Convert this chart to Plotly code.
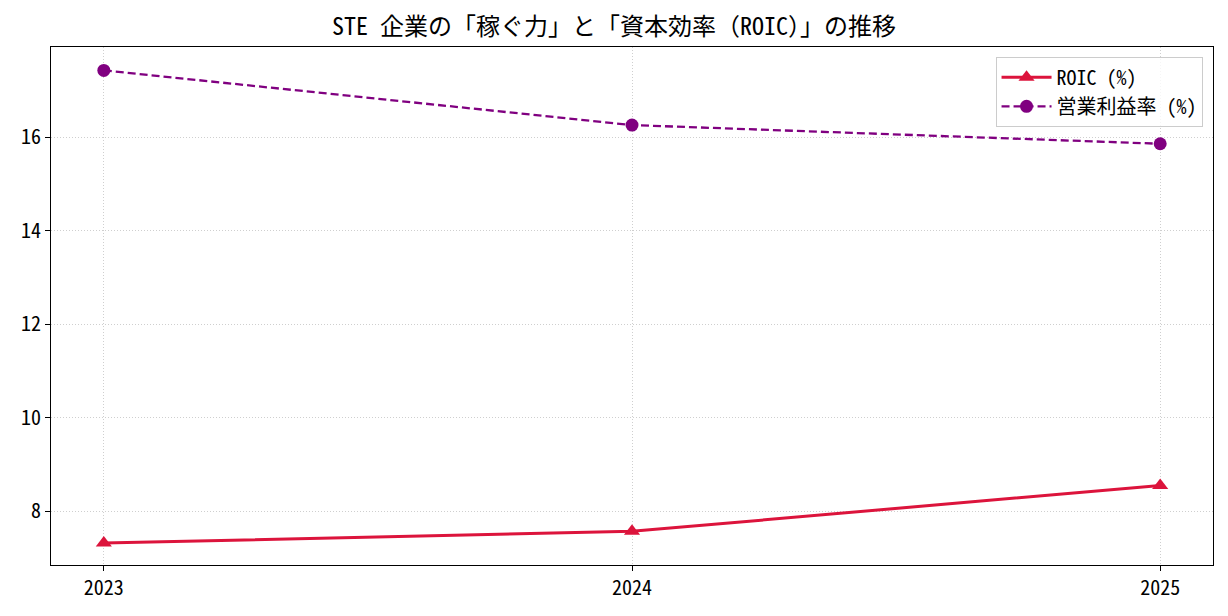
import plotly.graph_objects as go

years = [2023, 2024, 2025]
roic = [7.32, 7.57, 8.55]
op_margin = [17.43, 16.26, 15.86]
title_text = "STE 企業の「稼ぐ力」と「資本効率（ROIC）」の推移"
font_family = "Noto Sans Mono CJK JP, Noto Sans CJK JP, monospace"

fig = go.Figure()
fig.add_trace(go.Scatter(
    x=years, y=roic, name="ROIC (%)", mode="lines+markers",
    line=dict(color="crimson", width=3),
    marker=dict(symbol="triangle-up", size=14, color="crimson"),
))
fig.add_trace(go.Scatter(
    x=years, y=op_margin, name="営業利益率 (%)", mode="lines+markers",
    line=dict(color="purple", width=2.3, dash="8px,4px"),
    marker=dict(symbol="circle", size=13, color="purple"),
))

axis_common = dict(
    showline=True, linecolor="black", linewidth=1.2, mirror=True,
    ticks="outside", ticklen=5, tickcolor="black", tickwidth=1,
    showgrid=True, gridcolor="#cfcfcf", griddash="1px,2px", gridwidth=1,
    zeroline=False, tickfont=dict(size=20, color="black", family=font_family),
)
fig.update_xaxes(range=[2022.9, 2025.1], tickvals=years, ticktext=[str(y) for y in years], **axis_common)
fig.update_yaxes(range=[6.85, 17.93], tickvals=[8, 10, 12, 14, 16], **axis_common)

fig.update_layout(
    width=1228, height=616,
    margin=dict(l=51, r=15, t=47, b=51),
    paper_bgcolor="white", plot_bgcolor="white",
    font=dict(family=font_family, color="black"),
    title=dict(text=title_text, x=0.5, xanchor="center", y=0.957, yanchor="middle",
               font=dict(size=24, color="black", family=font_family)),
    legend=dict(x=0.991, y=0.981, xanchor="right", yanchor="top",
                bgcolor="rgba(255,255,255,0.8)", bordercolor="#cccccc", borderwidth=1,
                font=dict(size=20, color="black", family=font_family),
                itemwidth=50, tracegroupgap=0),
    showlegend=True,
)

fig.write_html("out.html")
